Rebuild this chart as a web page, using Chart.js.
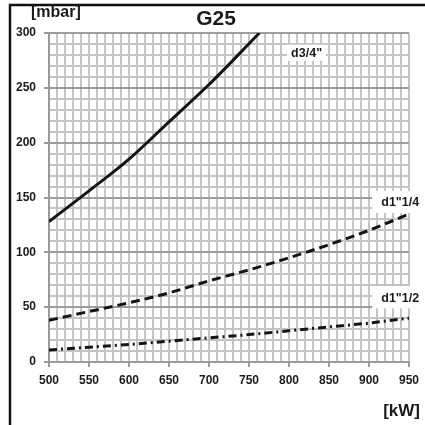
<!DOCTYPE html>
<html>
<head>
<meta charset="utf-8">
<script src="https://cdn.jsdelivr.net/npm/chart.js@4.4.1/dist/chart.umd.min.js"></script>
<style>
    html, body { margin: 0; padding: 0; background: #fff; }
    #wrap { width: 425px; height: 425px; position: relative; }
</style>
</head>
<body>
<div id="wrap"><canvas id="chart" width="425" height="425"></canvas></div>
<script>
// Gas pressure drop vs burner output, G25
const powerKw = [500, 550, 600, 650, 700, 750, 800, 850, 900, 950];
const d34Power = [500, 550, 600, 650, 700, 763];
const d34Pressure = [128, 156, 185, 219, 253, 300];
const d114Pressure = [38, 46, 54, 63, 74, 84, 95, 107, 120, 135];
const d112Pressure = [11, 13.5, 16, 19, 22, 25, 28.5, 32, 35.5, 40];

const seriesNames = ['d3/4"', 'd1"1/4', 'd1"1/2'];
// label anchor in data units [kW, mbar]
const labelKw = [822, 939, 939];
const labelMbar = [282, 146, 59];

const chartTitle = 'G25';
const yUnit = '[mbar]';
const xUnit = '[kW]';

function toPoints(xs, ys) {
    return ys.map((y, i) => ({ x: xs[i], y: y }));
}

const FONT = '"Liberation Sans", Arial, sans-serif';

// frame, title, units and the boxed series labels
const decorPlugin = {
    id: 'decor',
    afterDraw(chart) {
        const ctx = chart.ctx;
        const area = chart.chartArea;
        const xs = chart.scales.x;
        const ys = chart.scales.y;
        ctx.save();

        // outer frame (left + top)
        ctx.strokeStyle = '#111';
        ctx.lineWidth = 2.5;
        ctx.beginPath();
        ctx.moveTo(10, 425);
        ctx.lineTo(10, 5);
        ctx.lineTo(425, 5);
        ctx.stroke();

        ctx.fillStyle = '#1a1a1a';
        ctx.textBaseline = 'middle';

        ctx.font = 'bold 16px ' + FONT;
        ctx.textAlign = 'left';
        ctx.fillText(yUnit, 31, 13);

        ctx.font = 'bold 21px ' + FONT;
        ctx.textAlign = 'center';
        ctx.fillText(chartTitle, (area.left + area.right) / 2 - 13, 19);

        ctx.font = 'bold 17px ' + FONT;
        ctx.textAlign = 'right';
        ctx.fillText(xUnit, 420, 411);

        // series labels on white boxes
        const boxPad = [[4, 8], [9, 11], [9, 11]];
        ctx.font = 'bold 12.5px ' + FONT;
        ctx.textAlign = 'center';
        seriesNames.forEach((name, i) => {
            const cx = xs.getPixelForValue(labelKw[i]);
            const cy = ys.getPixelForValue(labelMbar[i]);
            const w = ctx.measureText(name).width;
            ctx.fillStyle = '#fff';
            ctx.fillRect(cx - w / 2 - boxPad[i][0], cy - boxPad[i][1],
                w + boxPad[i][0] * 2, boxPad[i][1] * 2);
            ctx.fillStyle = '#1a1a1a';
            ctx.fillText(name, cx, cy + 1);
        });

        ctx.restore();
    }
};

const ctx = document.getElementById('chart').getContext('2d');

const chart = new Chart(ctx, {
    type: 'scatter',
    data: {
        datasets: [
            {
                label: seriesNames[0],
                data: toPoints(d34Power, d34Pressure),
                showLine: true,
                borderColor: '#151515',
                borderWidth: 3,
                pointRadius: 0,
                cubicInterpolationMode: 'monotone'
            },
            {
                label: seriesNames[1],
                data: toPoints(powerKw, d114Pressure),
                showLine: true,
                borderColor: '#151515',
                borderWidth: 3,
                borderDash: [9, 5],
                pointRadius: 0,
                cubicInterpolationMode: 'monotone'
            },
            {
                label: seriesNames[2],
                data: toPoints(powerKw, d112Pressure),
                showLine: true,
                borderColor: '#151515',
                borderWidth: 3,
                borderDash: [8, 4, 2, 4],
                pointRadius: 0,
                cubicInterpolationMode: 'monotone'
            }
        ]
    },
    options: {
        responsive: false,
        animation: false,
        layout: {
            padding: { left: 0, top: 33, right: 14, bottom: 0 }
        },
        scales: {
            x: {
                type: 'linear',
                min: 500,
                max: 950,
                afterFit: function(scale) { scale.height = 63; },
                ticks: {
                    stepSize: 10,
                    autoSkip: false,
                    maxRotation: 0,
                    padding: 6,
                    color: '#1a1a1a',
                    font: { family: FONT, size: 12, weight: 'bold' },
                    callback: function(value) {
                        return value % 50 === 0 ? value : '';
                    }
                },
                grid: {
                    color: '#c4c4c4',
                    lineWidth: 2,
                    tickLength: 5,
                    tickColor: function(c) {
                        return c.tick && c.tick.value % 50 === 0 ? '#9a9a9a' : 'rgba(0,0,0,0)';
                    }
                },
                border: { color: '#9a9a9a', width: 2 }
            },
            y: {
                min: 0,
                max: 300,
                afterFit: function(scale) { scale.width = 49; },
                ticks: {
                    stepSize: 10,
                    autoSkip: false,
                    padding: 8,
                    color: '#1a1a1a',
                    font: { family: FONT, size: 12, weight: 'bold' },
                    callback: function(value) {
                        return value % 50 === 0 ? value : '';
                    }
                },
                grid: {
                    color: function(c) {
                        return c.tick && c.tick.value % 50 === 0 ? '#9c9c9c' : '#c4c4c4';
                    },
                    lineWidth: 2,
                    tickLength: 5,
                    tickColor: function(c) {
                        return c.tick && c.tick.value % 50 === 0 ? '#9a9a9a' : 'rgba(0,0,0,0)';
                    }
                },
                border: { color: '#9a9a9a', width: 2 }
            }
        },
        plugins: {
            legend: { display: false },
            tooltip: { enabled: false }
        }
    },
    plugins: [decorPlugin]
});
</script>
</body>
</html>
